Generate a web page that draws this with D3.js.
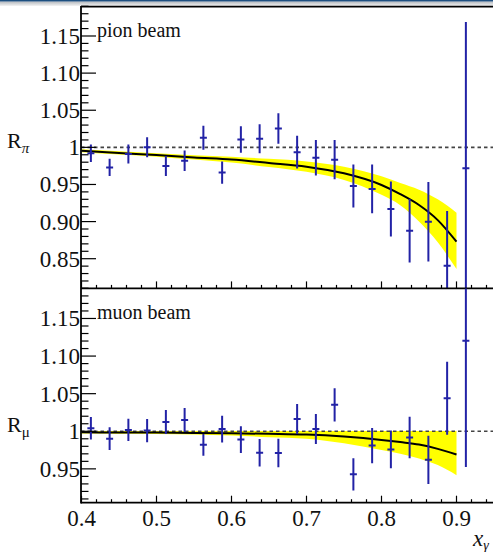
<!DOCTYPE html>
<html>
<head>
<meta charset="utf-8">
<script src="https://cdn.jsdelivr.net/npm/d3@7"></script>
</head>
<body style="margin:0">
<script>
// bin centres in x_gamma
const xCenters = [0.4125, 0.4375, 0.4625, 0.4875, 0.5125, 0.5375, 0.5625, 0.5875, 0.6125, 0.6375,
  0.6625, 0.6875, 0.7125, 0.7375, 0.7625, 0.7875, 0.8125, 0.8375, 0.8625, 0.8875, 0.9125];

// pion beam ratio and errors
const pionR = [0.992, 0.973, 0.991, 1.000, 0.975, 0.982, 1.013, 0.966, 1.0106, 1.0115,
  1.0254, 0.9935, 0.986, 0.9834, 0.948, 0.944, 0.917, 0.8877, 0.8998, 0.8406, 0.9718];
const pionErr = [0.0117, 0.0117, 0.0128, 0.0135, 0.0135, 0.0139, 0.0162, 0.015, 0.0179, 0.0195,
  0.0207, 0.022, 0.024, 0.0265, 0.029, 0.0328, 0.037, 0.0427, 0.0535, 0.0737, 0.197];

// muon beam ratio and errors
const muonR = [1.004, 0.9902, 1.0018, 1.0009, 1.0122, 1.015, 0.982, 1.0029, 0.9889, 0.9714,
  0.9711, 1.0164, 1.0031, 1.0351, 0.9427, 0.981, 0.9759, 0.9918, 0.962, 1.0439, 1.1204];
const muonErr = [0.015, 0.015, 0.0148, 0.0155, 0.016, 0.016, 0.0144, 0.0177, 0.0177, 0.0184,
  0.0188, 0.020, 0.020, 0.022, 0.0214, 0.0235, 0.025, 0.0276, 0.032, 0.0484, 0.168];

// fit curves and their uncertainty bands
const fitX = [0.40, 0.45, 0.50, 0.55, 0.60, 0.65, 0.70, 0.75, 0.80, 0.825, 0.85, 0.875, 0.90];
const pionFit = [0.9955, 0.9924, 0.9897, 0.9863, 0.9836, 0.979, 0.974, 0.965, 0.9493, 0.937, 0.9223, 0.902, 0.8729];
const pionBandHi = [0.9975, 0.9948, 0.992, 0.9895, 0.9875, 0.9845, 0.981, 0.974, 0.961, 0.952, 0.943, 0.930, 0.912];
const pionBandLo = [0.9935, 0.9903, 0.9875, 0.9835, 0.9795, 0.9735, 0.967, 0.956, 0.936, 0.922, 0.900, 0.872, 0.836];
const muonFit = [0.9986, 0.9984, 0.9982, 0.9978, 0.9973, 0.9966, 0.9956, 0.9929, 0.9885, 0.9856, 0.9823, 0.9766, 0.969];
const muonBandHi = [1.0003, 1.0003, 1.0003, 1.0003, 1.0003, 1.0003, 1.0003, 1.0003, 1.0003, 1.0003, 1.0003, 1.0003, 1.0003];
const muonBandLo = [0.997, 0.9968, 0.9965, 0.9958, 0.9945, 0.992, 0.990, 0.984, 0.975, 0.970, 0.9638, 0.955, 0.9416];

const xTicks = [0.4, 0.5, 0.6, 0.7, 0.8, 0.9];
const pionYTicks = ["0.85", "0.90", "0.95", "1", "1.05", "1.10", "1.15"];
const muonYTicks = ["0.95", "1", "1.05", "1.10", "1.15"];

const width = 493, height = 552;
const left = 81;
const fontStack = `"Liberation Serif", monospace`;

const x = d3.scaleLinear().domain([0.4, 0.96]).range([81.5, 501.5]);

const panels = [
  { name: "pion", label: "pion beam", sub: "\u03c0", italic: true, r: pionR, err: pionErr, fit: pionFit, hi: pionBandHi, lo: pionBandLo,
    ticks: pionYTicks, y: d3.scaleLinear().domain([0.81, 1.19]).range([288.4, 6.3]) },
  { name: "muon", label: "muon beam", sub: "\u03bc", italic: false, r: muonR, err: muonErr, fit: muonFit, hi: muonBandHi, lo: muonBandLo,
    ticks: muonYTicks, y: d3.scaleLinear().domain([0.905, 1.19]).range([502.7, 288.4]) }
];

const svg = d3.select("body").append("svg")
  .attr("width", width)
  .attr("height", height);

// window strip at the very top
const defs = svg.append("defs");
const grad = defs.append("linearGradient").attr("id", "strip").attr("x1", 0).attr("y1", 0).attr("x2", 0).attr("y2", 1);
grad.append("stop").attr("offset", 0).attr("stop-color", "#b4b8bd");
grad.append("stop").attr("offset", 1).attr("stop-color", "#f4f4f4");
svg.append("rect").attr("x", 0).attr("y", 1.5).attr("width", width).attr("height", 4.5).attr("fill", "url(#strip)");
svg.append("rect").attr("x", 0).attr("y", 0).attr("width", width).attr("height", 1.5).attr("fill", "#1d4f80");

function label(sel, size) {
  return sel.style("font-family", fontStack).style("font-size", size + "px").style("fill", "#111");
}

panels.forEach(p => {
  const y = p.y;
  const [yBot, yTop] = y.range();

  defs.append("clipPath").attr("id", "clip-" + p.name)
    .append("rect").attr("x", left).attr("y", yTop).attr("width", width - left).attr("height", yBot - yTop);

  const g = svg.append("g").attr("clip-path", `url(#clip-${p.name})`);

  // uncertainty band
  const area = d3.area()
    .x((d, k) => x(fitX[k]))
    .y0((d, k) => y(p.lo[k]))
    .y1((d, k) => y(p.hi[k]))
    .curve(d3.curveMonotoneX);
  g.append("path").datum(fitX).attr("fill", "#ffff00").attr("d", area);

  // dashed line at unity
  g.append("line")
    .attr("stroke", "#444").attr("stroke-width", 1.6).attr("stroke-dasharray", "3.5,3")
    .attr("x1", left).attr("x2", width)
    .attr("y1", y(1)).attr("y2", y(1));

  // fit curve
  const line = d3.line()
    .x((d, k) => x(fitX[k]))
    .y(d => y(d))
    .curve(d3.curveMonotoneX);
  g.append("path").datum(p.fit).attr("fill", "none").attr("stroke", "#000").attr("stroke-width", 2).attr("d", line);

  // data points with error bars
  const pts = g.append("g").attr("stroke", "#2222a6").attr("stroke-width", 2)
    .selectAll("g").data(xCenters.map((c, k) => ({ c, v: p.r[k], e: p.err[k] })))
    .join("g");
  pts.append("line")
    .attr("x1", d => x(d.c)).attr("x2", d => x(d.c))
    .attr("y1", d => y(d.v - d.e)).attr("y2", d => y(d.v + d.e));
  pts.append("line")
    .attr("x1", d => x(d.c) - 3.5).attr("x2", d => x(d.c) + 3.5)
    .attr("y1", d => y(d.v)).attr("y2", d => y(d.v));

  // y axis minor / major ticks
  const lo = y.domain()[0], hi = y.domain()[1];
  const minor = d3.range(Math.ceil(lo * 100), Math.floor(hi * 100) + 1).map(v => v / 100);
  svg.append("g").attr("stroke", "#000").attr("stroke-width", 1.2)
    .selectAll("line").data(minor).join("line")
    .attr("x1", left).attr("y1", d => y(d))
    .attr("x2", d => left + (Math.round(d * 100) % 5 === 0 ? 15 : 7.5)).attr("y2", d => y(d));

  svg.append("g").selectAll("text").data(p.ticks).join("text")
    .call(label, 23)
    .attr("text-anchor", "end")
    .attr("x", left - 1)
    .attr("y", d => y(+d) + 8)
    .text(d => d);

  // x axis ticks pointing up
  const xMinor = d3.range(40, 97, 2).map(v => v / 100);
  svg.append("g").attr("stroke", "#000").attr("stroke-width", 1.2)
    .selectAll("line").data(xMinor).join("line")
    .attr("x1", d => x(d)).attr("x2", d => x(d))
    .attr("y1", yBot).attr("y2", d => yBot - (Math.round(d * 100) % 10 === 0 ? 7 : 3.5));

  svg.append("line").attr("stroke", "#000").attr("stroke-width", 1.8)
    .attr("x1", left).attr("x2", width).attr("y1", yBot).attr("y2", yBot);

  // y axis title
  const t = svg.append("text").call(label, 22)
    .attr("x", 7).attr("y", y(1) + 1);
  t.append("tspan").text("R");
  t.append("tspan").attr("dy", 5).style("font-size", "15px").style("font-style", p.italic ? "italic" : "normal").text(p.sub);

  svg.append("text").call(label, 20)
    .attr("x", 97).attr("y", yTop + 31).text(p.label);
});

// left axis and top frame
svg.append("line").attr("stroke", "#000").attr("stroke-width", 1.8).attr("x1", left).attr("x2", left).attr("y1", 6).attr("y2", 503.5);
svg.append("line").attr("stroke", "#000").attr("stroke-width", 1.8).attr("x1", left).attr("x2", width).attr("y1", 6.6).attr("y2", 6.6);

// x tick labels
const yB = panels[1].y.range()[0];
svg.append("g").selectAll("text").data(xTicks).join("text")
  .call(label, 23)
  .attr("text-anchor", "middle")
  .attr("x", d => x(d))
  .attr("y", yB + 23)
  .text(d => d.toFixed(1));

const xt = svg.append("text").call(label, 23).style("font-style", "italic")
  .attr("x", 473).attr("y", 546);
xt.append("tspan").text("x");
xt.append("tspan").attr("dy", 4).style("font-size", "14px").text("\u03b3");
</script>
</body>
</html>
